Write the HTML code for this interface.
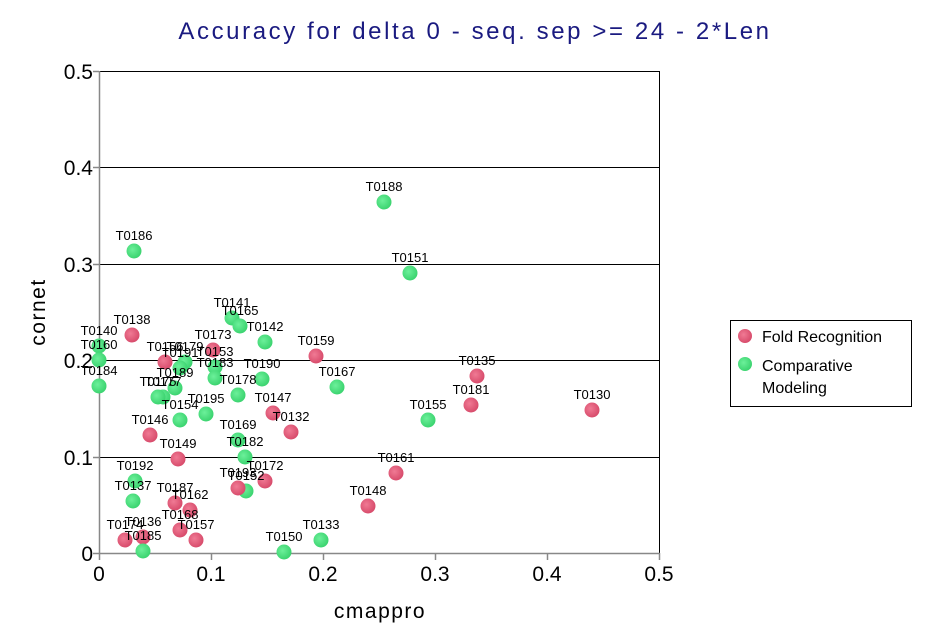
<!DOCTYPE html>
<html><head><meta charset="utf-8"><style>
html,body{margin:0;padding:0;background:#fff;}
svg{display:block;font-family:"Liberation Sans",sans-serif;}
.l{font-size:13px;fill:#000;text-anchor:middle;}
</style></head><body>
<svg width="950" height="639" viewBox="0 0 950 639">
<defs>
<radialGradient id="r" cx="40%" cy="40%" r="60%"><stop offset="0" stop-color="#f07a94"/><stop offset="1" stop-color="#d84c6c"/></radialGradient>
<radialGradient id="g" cx="40%" cy="40%" r="60%"><stop offset="0" stop-color="#6cf09a"/><stop offset="1" stop-color="#3cd470"/></radialGradient>
</defs>
<text x="475" y="39" font-size="24" fill="#1a1a80" text-anchor="middle" letter-spacing="2.6">Accuracy for delta 0 - seq. sep &gt;= 24 - 2*Len</text>
<rect x="99.5" y="71.5" width="560" height="482" fill="none" stroke="#000" stroke-width="1"/>
<g stroke="#000" stroke-width="1">
<line x1="99" y1="167.5" x2="660" y2="167.5"/><line x1="99" y1="264.5" x2="660" y2="264.5"/>
<line x1="99" y1="360.5" x2="660" y2="360.5"/><line x1="99" y1="457.5" x2="660" y2="457.5"/>
</g>
<g stroke="#888" stroke-width="1.5">
<line x1="99.5" y1="71" x2="99.5" y2="560"/><line x1="93" y1="553.5" x2="660" y2="553.5"/>
<line x1="93" y1="71.5" x2="99" y2="71.5"/><line x1="93" y1="167.5" x2="99" y2="167.5"/><line x1="93" y1="264.5" x2="99" y2="264.5"/><line x1="93" y1="360.5" x2="99" y2="360.5"/><line x1="93" y1="457.5" x2="99" y2="457.5"/>
<line x1="211.5" y1="553" x2="211.5" y2="560"/><line x1="323.5" y1="553" x2="323.5" y2="560"/><line x1="435.5" y1="553" x2="435.5" y2="560"/><line x1="547.5" y1="553" x2="547.5" y2="560"/><line x1="659.5" y1="553" x2="659.5" y2="560"/>
</g>
<g font-size="21" fill="#000" text-anchor="end">
<text x="93" y="79">0.5</text><text x="93" y="175">0.4</text><text x="93" y="272">0.3</text><text x="93" y="368">0.2</text><text x="93" y="465">0.1</text><text x="93" y="561">0</text>
</g>
<g font-size="21" fill="#000" text-anchor="middle">
<text x="99" y="581">0</text><text x="211" y="581">0.1</text><text x="323" y="581">0.2</text><text x="435" y="581">0.3</text><text x="547" y="581">0.4</text><text x="659" y="581">0.5</text>
<text x="380" y="618" letter-spacing="1.5">cmappro</text>
<text x="45" y="312" transform="rotate(-90 45 312)" letter-spacing="1.5">cornet</text>
</g>
<g id="pts"></g>
<rect x="730.5" y="320.5" width="181" height="86" fill="#fff" stroke="#000"/>
<circle cx="745" cy="336" r="7" fill="url(#r)"/>
<circle cx="745" cy="364" r="7" fill="url(#g)"/>
<g font-size="16" fill="#000"><text x="762" y="342">Fold Recognition</text><text x="762" y="371">Comparative</text><text x="762" y="393">Modeling</text></g>
</svg>
<script>
var P=[
["T0188",384,202,"g"],["T0186",134,251,"g"],["T0151",410,273,"g"],["T0141",232,318,"g"],["T0165",240,326,"g"],["T0142",265,342,"g"],
["T0138",132,335,"r"],["T0140",99,346,"g"],["T0160",99,360,"g"],["T0184",99,386,"g"],["T0173",213,350,"r"],["T0159",316,356,"r"],
["T0135",477,376,"r"],["T0130",592,410,"r"],["T0181",471,405,"r"],["T0155",428,420,"g"],["T0167",337,387,"g"],
["T0156",165,362,"r"],["T0179",185,362,"g"],["T0191",180,368,"g"],["T0153",215,367,"g"],["T0183",215,378,"g"],["T0190",262,379,"g"],
["T0189",175,388,"g"],["T0177",163,397,"g"],["T0175",158,397,"g"],["T0178",238,395,"g"],["T0195",206,414,"g"],["T0154",180,420,"g"],
["T0147",273,413,"r"],["T0132",291,432,"r"],["T0146",150,435,"r"],["T0169",238,440,"g"],["T0182",245,457,"g"],["T0149",178,459,"r"],
["T0161",396,473,"r"],["T0192",135,481,"g"],["T0172",265,481,"r"],["T0152",246,491,"g"],["T0193",238,488,"r"],["T0137",133,501,"g"],
["T0187",175,503,"r"],["T0162",190,510,"r"],["T0148",368,506,"r"],["T0168",180,530,"r"],["T0157",196,540,"r"],["T0174",125,540,"r"],
["T0136",143,537,"r"],["T0185",143,551,"g"],["T0150",284,552,"g"],["T0133",321,540,"g"]];
var g=document.getElementById("pts"),s="";
P.forEach(function(p){s+='<circle cx="'+p[1]+'" cy="'+p[2]+'" r="7.5" fill="url(#'+p[3]+')"/>';});
P.forEach(function(p){s+='<text class="l" x="'+p[1]+'" y="'+(p[2]-11)+'">'+p[0]+'</text>';});
g.innerHTML=s;
</script>
</body></html>
